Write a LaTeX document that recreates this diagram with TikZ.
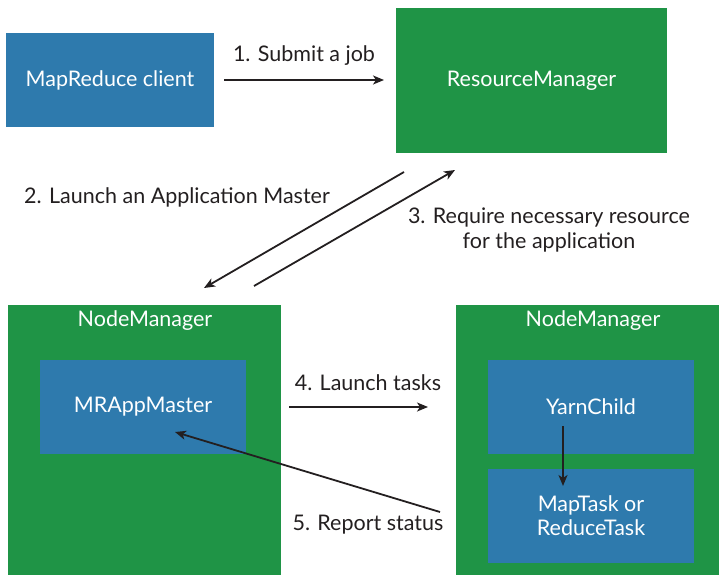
\documentclass[tikz,border=0pt]{standalone}
\usepackage{fontspec}
\setmainfont{Lato}
\usetikzlibrary{arrows.meta}
\definecolor{boxblue}{HTML}{2E7AAD}
\definecolor{boxgreen}{HTML}{1F9446}
\definecolor{ink}{HTML}{231F20}
\tikzset{
  box/.style={inner sep=0pt, text=white, font=\fontsize{21.5}{24}\selectfont, align=center},
  bluebox/.style={box, fill=boxblue},
  greenbox/.style={box, fill=boxgreen},
  title/.style={text=white, font=\fontsize{21.5}{24}\selectfont},
  lbl/.style={text=ink, font=\fontsize{21.5}{25}\selectfont, align=center},
  arr/.style={draw=ink, line width=1.8pt, -{Stealth[length=11pt,width=9pt,inset=3pt]}},
}
\begin{document}
\begin{tikzpicture}[x=1pt,y=-1pt]
\useasboundingbox (0,0) rectangle (719,575);
% top boxes
\node[bluebox, minimum width=208pt, minimum height=94pt] (client) at (110,80) {MapReduce client};
\node[greenbox, minimum width=271pt, minimum height=145pt] (rm) at (531.5,80.5) {ResourceManager};
% node managers
\node[greenbox, minimum width=273pt, minimum height=270pt] (nm1) at (144.5,440) {};
\node[title] (nm1t) at (145,321) {NodeManager};
\node[greenbox, minimum width=263pt, minimum height=270pt] (nm2) at (587.5,440) {};
\node[title] (nm2t) at (593,321) {NodeManager};
% inner boxes
\node[bluebox, minimum width=206pt, minimum height=94pt] (mram) at (143,407) {MRAppMaster};
\node[bluebox, minimum width=206pt, minimum height=94pt] (yc) at (591,407) {YarnChild};
\node[bluebox, minimum width=206pt, minimum height=94pt] (mt) at (591,516) {MapTask or\\ReduceTask};
% connector endpoints
\coordinate (a1s) at (224,80);
\coordinate (a1e) at (384,80);
\coordinate (a2s) at (404,172);
\coordinate (a2e) at (204,288);
\coordinate (a3s) at (254,286);
\coordinate (a3e) at (455,170);
\coordinate (a4s) at (289,407);
\coordinate (a4e) at (428,407);
\coordinate (a5s) at (440,512);
\coordinate (a5e) at (175,432);
\coordinate (a6s) at (563,426);
\coordinate (a6e) at (563,486);
\draw[arr] (a1s) -- (a1e);
\draw[arr] (a2s) -- (a2e);
\draw[arr] (a3s) -- (a3e);
\draw[arr] (a4s) -- (a4e);
\draw[arr] (a5s) -- (a5e);
\draw[arr] (a6s) -- (a6e);
% labels
\node[lbl] (l1) at (304,56) {1. Submit a job};
\node[lbl] (l2) at (177,197) {2. Launch an Application Master};
\node[lbl] (l3) at (549,230) {3. Require necessary resource\\for the application};
\node[lbl] (l4) at (368,383) {4. Launch tasks};
\node[lbl] (l5) at (368,525) {5. Report status};
\end{tikzpicture}
\end{document}
